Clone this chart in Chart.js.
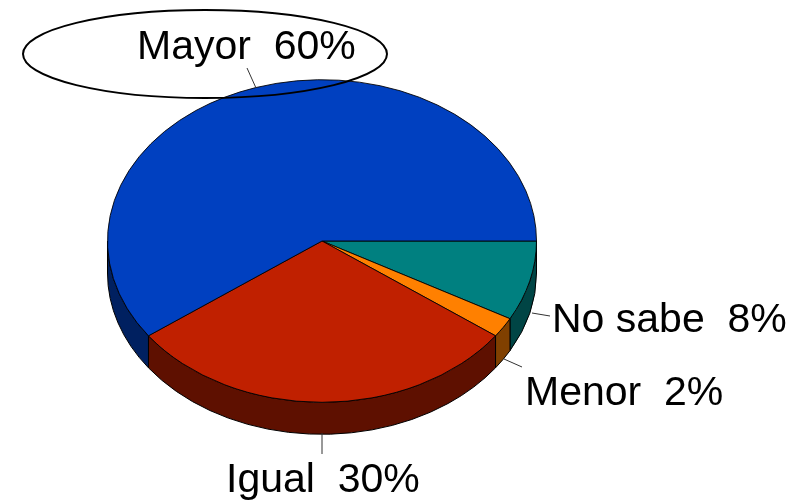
<!DOCTYPE html>
<html>
<head>
<meta charset="utf-8">
<script src="https://cdn.jsdelivr.net/npm/chart.js@4/dist/chart.umd.min.js"></script>
<style>
  html, body { margin: 0; padding: 0; background: #ffffff; }
  canvas { display: block; }
</style>
</head>
<body>
<canvas id="c" width="808" height="501"></canvas>
<script>
// ---- data ----
const categories = ['No sabe', 'Menor', 'Igual', 'Mayor'];
const values = [8, 2, 30, 60];
const topColors = ['#008080', '#FF8000', '#C02000', '#0040C0'];
const sideColors = ['#004545', '#804000', '#5E1000', '#002060'];

// ---- presentation ----
const TILT = 0.752;      // vertical squash of the pie
const DEPTH = 32;        // thickness of the 3D side
const FONT = "41px 'Liberation Sans', Arial, sans-serif";
const labelPos = [
  {x: 552, y: 332, line: [[532, 313], [550, 316]]},
  {x: 525, y: 405, line: [[504, 359], [522, 367]]},
  {x: 226, y: 492, line: [[322, 433], [322, 454]]},
  {x: 137, y: 59,  line: [[247, 68], [256, 88]], ellipse: {cx: 205, cy: 54, rx: 182, ry: 44}}
];

const pie3d = {
  id: 'pie3d',
  beforeDatasetsDraw(chart) {
    const ctx = chart.ctx;
    const arcs = chart.getDatasetMeta(0).data;
    if (!arcs.length) return;
    const cx = arcs[0].x, cy = arcs[0].y, r = arcs[0].outerRadius;
    const ry = r * TILT;
    // sides (front half only: angles 0..PI)
    arcs.forEach((a, i) => {
      let s = a.startAngle, e = a.endAngle;
      const TWO = Math.PI * 2;
      // normalise
      while (s < 0) { s += TWO; e += TWO; }
      while (s >= TWO) { s -= TWO; e -= TWO; }
      const segs = [[s, e], [s - TWO, e - TWO], [s + TWO, e + TWO]];
      segs.forEach(([a0, a1]) => {
        const lo = Math.max(a0, 0), hi = Math.min(a1, Math.PI);
        if (hi <= lo) return;
        ctx.save();
        ctx.beginPath();
        ctx.ellipse(cx, cy, r, ry, 0, lo, hi, false);
        ctx.ellipse(cx, cy + DEPTH, r, ry, 0, hi, lo, true);
        ctx.closePath();
        ctx.fillStyle = sideColors[i];
        ctx.fill();
        ctx.lineWidth = 1;
        ctx.strokeStyle = '#000000';
        ctx.stroke();
        ctx.restore();
      });
    });
    ctx.save();
    ctx.translate(0, cy);
    ctx.scale(1, TILT);
    ctx.translate(0, -cy);
  },
  afterDatasetsDraw(chart) {
    chart.ctx.restore();
  },
  afterDraw(chart) {
    const ctx = chart.ctx;
    ctx.save();
    ctx.font = FONT;
    ctx.fillStyle = '#000000';
    ctx.textBaseline = 'alphabetic';
    ctx.textAlign = 'left';
    categories.forEach((c, i) => {
      const p = labelPos[i];
      ctx.beginPath();
      ctx.moveTo(p.line[0][0], p.line[0][1]);
      ctx.lineTo(p.line[1][0], p.line[1][1]);
      ctx.lineWidth = 1;
      ctx.strokeStyle = '#333333';
      ctx.stroke();
      if (p.ellipse) {
        ctx.beginPath();
        ctx.ellipse(p.ellipse.cx, p.ellipse.cy, p.ellipse.rx, p.ellipse.ry, 0, 0, Math.PI * 2);
        ctx.lineWidth = 2;
        ctx.strokeStyle = '#000000';
        ctx.stroke();
      }
      ctx.fillText(c + '  ' + values[i] + '%', p.x, p.y);
    });
    ctx.restore();
  }
};

new Chart(document.getElementById('c'), {
  type: 'pie',
  data: {
    labels: categories,
    datasets: [{
      data: values,
      backgroundColor: topColors,
      borderColor: '#000000',
      borderWidth: 1
    }]
  },
  options: {
    responsive: false,
    animation: false,
    events: [],
    rotation: 90,
    layout: { padding: { left: 107, right: 271, top: 26, bottom: 45 } },
    plugins: { legend: { display: false }, tooltip: { enabled: false } }
  },
  plugins: [pie3d]
});
</script>
</body>
</html>
